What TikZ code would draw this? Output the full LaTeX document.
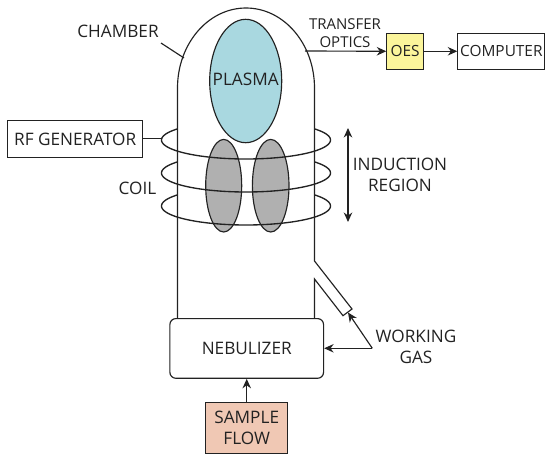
\documentclass[tikz,border=0pt]{standalone}
\usepackage{fontspec}
\setmainfont{Open Sans}
\usetikzlibrary{arrows.meta,shapes.geometric}
\definecolor{ink}{HTML}{222222}
\definecolor{plasmac}{HTML}{A9D8E0}
\definecolor{grayc}{HTML}{B0B0B0}
\definecolor{oesc}{HTML}{FBF59B}
\definecolor{samplec}{HTML}{F0C8B4}
\tikzset{
  every node/.style={font=\fontsize{17.2}{20.5}\selectfont,text=ink,align=center,inner sep=0pt},
  smalltext/.style={font=\fontsize{15.4}{18.5}\selectfont},
  ln/.style={draw=ink,line width=1.15pt},
  arr/.style={ln,-{Stealth[length=9.5pt,width=8.5pt]}},
  oval/.style={ln,ellipse},
  sqbox/.style={ln,rectangle,anchor=north west},
}
\newcommand{\coilarc}[1]{\draw[ln,line width=1.35pt] plot[domain=144:396,samples=90,smooth] ({246+84.5*cos(\x)},{#1-19*sin(\x)});}
\begin{document}
\begin{tikzpicture}[x=1pt,y=-1pt]
\useasboundingbox (0,0) rectangle (550,461);
% chamber
\draw[ln] (177.5,318) -- (177.5,88) .. controls (177.5,44) and (208,8) .. (246,8)
  .. controls (284,8) and (314.5,44) .. (314.5,88) -- (314.5,261) -- (352,309) -- (343,315.7) -- (314.5,279) -- (314.5,318);
\coordinate (wallo) at (305,51);
\coordinate (wallc) at (184,58);
\coordinate (tube) at (348,312.5);
\coordinate (gas) at (372.3,348.3);
\coordinate (coilend) at (161.7,138.7);
\coordinate (chamberend) at (161,43);
\coordinate (ia) at (348,128);
\coordinate (ib) at (348,222);
% ellipses
\node[oval,fill=plasmac,minimum width=72pt,minimum height=123.4pt] (plasma) at (245.7,81) {};
\node (plasmal) at (245.7,79) {PLASMA};
\node[oval,fill=grayc,minimum width=36pt,minimum height=92.6pt] (gl) at (223.7,185.7) {};
\node[oval,fill=grayc,minimum width=36.6pt,minimum height=92.6pt] (gr) at (270.7,185.7) {};
% coil
\coilarc{140}
\coilarc{173}
\coilarc{206}
% boxes
\node[sqbox,minimum width=134.7pt,minimum height=36.7pt] (rf) at (7.3,120) {RF GENERATOR};
\node[sqbox,smalltext,fill=oesc,minimum width=36.4pt,minimum height=36pt] (oes) at (386.3,32.7) {OES};
\node[sqbox,smalltext,minimum width=87pt,minimum height=36pt] (comp) at (457.3,32.7) {COMPUTER};
\node[sqbox,rounded corners=6pt,minimum width=153.7pt,minimum height=59.7pt] (neb) at (169.3,318) {NEBULIZER};
\node[sqbox,fill=samplec,minimum width=82.3pt,minimum height=51.6pt] (sample) at (205,401.7) {SAMPLE\\FLOW};
% labels
\node (chamberl) at (118,31) {CHAMBER};
\node (coill) at (137.5,188) {COIL};
\node[font=\fontsize{15}{18.5}\selectfont] (optics) at (345,33) {TRANSFER\\OPTICS};
\node (ind) at (400,175) {INDUCTION\\REGION};
\node (gasl) at (416,347) {WORKING\\GAS};
% connectors
\draw[ln] (rf.east |- coilend) -- (coilend);
\draw[ln] (chamberend) -- (wallc);
\draw[arr] (wallo) -- (oes.west);
\draw[arr] (oes.east) -- (comp.west);
\draw[arr] (sample.north) -- (neb.south -| sample.north);
\draw[arr] (gas) -- (neb.east |- gas);
\draw[arr] (gas) -- (tube);
\draw[ln,{Stealth[length=9.5pt,width=8.5pt]}-{Stealth[length=9.5pt,width=8.5pt]}] (ia) -- (ib);
\end{tikzpicture}
\end{document}
